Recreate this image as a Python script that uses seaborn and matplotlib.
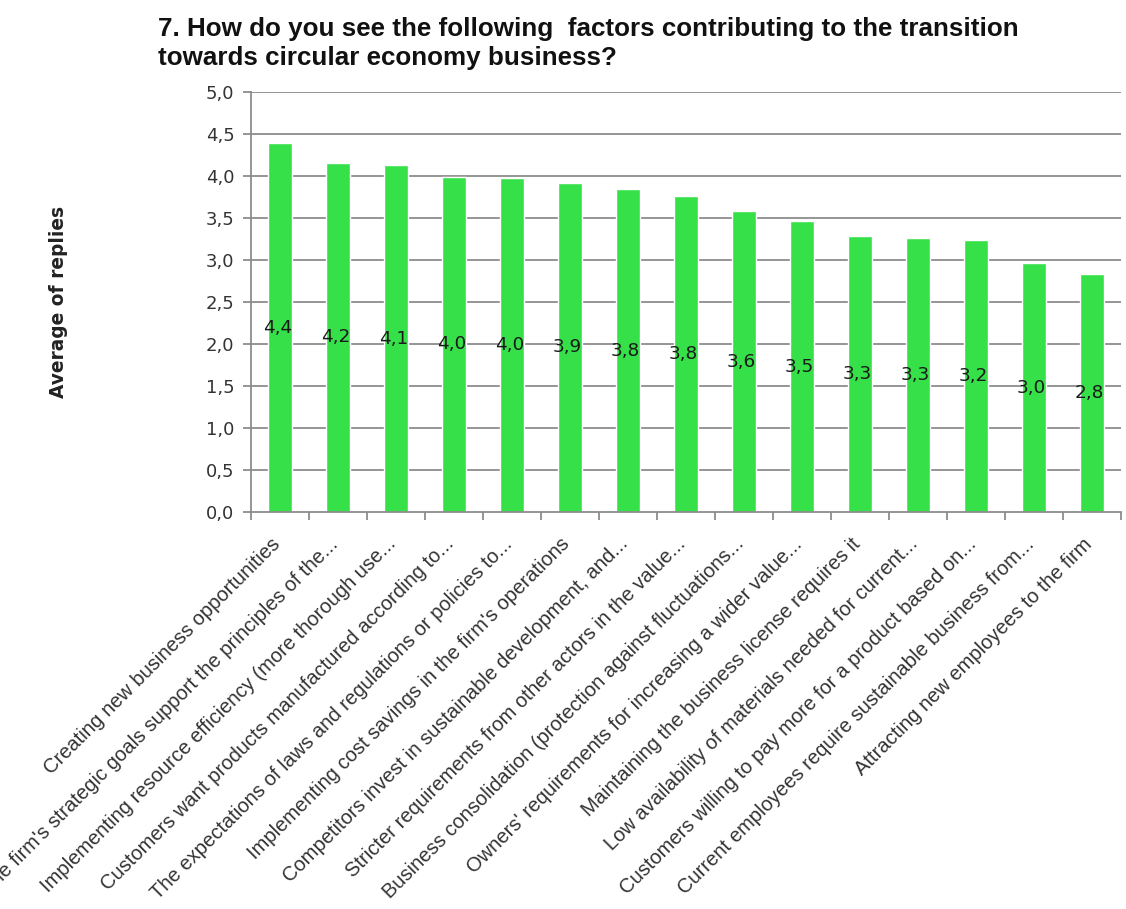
import matplotlib
matplotlib.use("Agg")
import matplotlib.pyplot as plt
import matplotlib.transforms as mtransforms
import seaborn as sns
import pandas as pd

# Survey factors and their mean scores (1-5 scale)
factors = [
    "Creating new business opportunities",
    "The firm's strategic goals support the principles of the...",
    "Implementing resource efficiency (more thorough use...",
    "Customers want products manufactured according to...",
    "The expectations of laws and regulations or policies to...",
    "Implementing cost savings in the firm's operations",
    "Competitors invest in sustainable development, and...",
    "Stricter requirements from other actors in the value...",
    "Business consolidation (protection against fluctuations...",
    "Owners' requirements for increasing a wider value...",
    "Maintaining the business license requires it",
    "Low availability of materials needed for current...",
    "Customers willing to pay more for a product based on...",
    "Current employees require sustainable business from...",
    "Attracting new employees to the firm",
]
averages = [4.39, 4.16, 4.13, 3.99, 3.98, 3.92, 3.84, 3.76, 3.58, 3.46,
            3.29, 3.26, 3.24, 2.96, 2.83]
y_ticks = [0.0, 0.5, 1.0, 1.5, 2.0, 2.5, 3.0, 3.5, 4.0, 4.5, 5.0]
title_lines = [
    "7. How do you see the following  factors contributing to the transition",
    "towards circular economy business?",
]

df = pd.DataFrame({"factor": factors, "average": averages})

sns.set_theme(style="white")
plt.rcParams["font.family"] = ["DejaVu Sans"]

fig = plt.figure(figsize=(11.26, 9.09), dpi=100)
ax = fig.add_axes([0.2229, 0.4367, 0.7727, 0.4621])

grid_color = "#8c8c8c"
bar_color = "#36e049"

for y in y_ticks[1:]:
    ax.axhline(y, color=grid_color, lw=1.3, zorder=0)

sns.barplot(data=df, x="factor", y="average", color=bar_color,
            width=0.40, saturation=1, ax=ax, zorder=2)

# value labels in the middle of each bar, decimal comma
for i, v in enumerate(averages):
    ax.text(i - 0.04, v / 2, f"{v:.1f}".replace(".", ","), ha="center",
            va="center", fontsize=13.3, color="#1a1a1a", zorder=3)

ax.set_ylim(0, 5)
ax.set_xlim(-0.5, len(factors) - 0.5)
ax.set_yticks(y_ticks)
ax.set_yticklabels([f"{t:.1f}".replace(".", ",") for t in y_ticks],
                   fontsize=13, color="#333333")

# category labels at bar centres, tick marks between categories
ax.set_xticks(range(len(factors)))
ax.set_xticklabels(factors, rotation=45, ha="right", rotation_mode="anchor",
                   fontsize=14.5, color="#333333",
                   family=["Liberation Sans", "DejaVu Sans"])
ax.tick_params(axis="x", length=0, pad=16)
shift = mtransforms.ScaledTranslation(-7 / 72, 0, fig.dpi_scale_trans)
for lbl in ax.get_xticklabels():
    lbl.set_transform(lbl.get_transform() + shift)
ax.set_xticks([i - 0.5 for i in range(len(factors) + 1)], minor=True)
ax.tick_params(axis="x", which="minor", length=6, color=grid_color,
               width=1.3, direction="out", bottom=True)
ax.tick_params(axis="y", length=6, color=grid_color, width=1.3,
               direction="out", left=True, pad=6)

for side in ["top", "right"]:
    ax.spines[side].set_visible(False)
for side in ["left", "bottom"]:
    ax.spines[side].set_color(grid_color)
    ax.spines[side].set_linewidth(1.3)

ax.set_xlabel("")
ax.set_ylabel("Average of replies", fontsize=13.4, fontweight="bold",
              color="#222222")
ax.yaxis.set_label_coords(-0.21, 0.5)

title_family = ["Liberation Sans", "DejaVu Sans"]
for line, y_px in zip(title_lines, [36, 65]):
    fig.text(158 / 1126, 1 - y_px / 909, line, ha="left", va="baseline",
             fontsize=18.7, fontweight="bold", family=title_family,
             color="#111111")

fig.savefig("out.png", dpi=100)
